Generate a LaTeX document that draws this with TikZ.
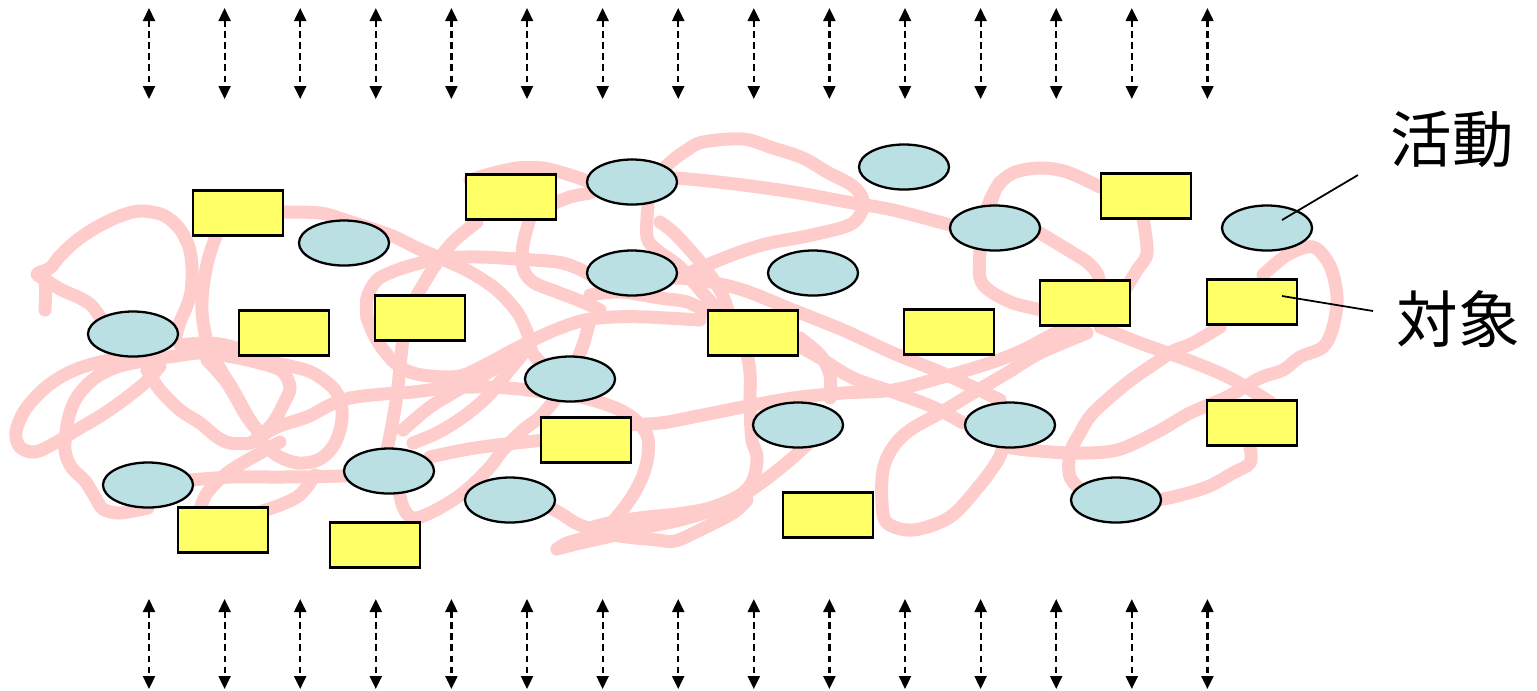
\documentclass[tikz,border=0pt]{standalone}
\usepackage{fontspec}
\newfontfamily\cjk{Noto Sans CJK JP}
\usetikzlibrary{shapes.geometric,arrows.meta}
\definecolor{pinkc}{RGB}{255,204,204}
\definecolor{yel}{RGB}{255,255,102}
\definecolor{lblue}{RGB}{186,224,227}
\tikzset{
  scrib/.style={draw=pinkc,line width=0.13cm,line cap=round,line join=round},
  objbox/.style={draw=black,fill=yel,line width=0.65pt,minimum width=0.9cm,minimum height=0.45cm,inner sep=0pt},
  actell/.style={ellipse,draw=black,fill=lblue,line width=0.65pt,minimum width=0.9cm,minimum height=0.45cm,inner sep=0pt},
  darr/.style={{Triangle[length=0.13cm,width=0.12cm]}-{Triangle[length=0.13cm,width=0.12cm]},dash pattern=on 0.065cm off 0.045cm,line width=0.022cm},
  lab/.style={font=\cjk\fontsize{17.5}{20}\selectfont,inner sep=0pt},
  leader/.style={draw=black,line width=0.5pt}
}
\newcommand{\scrstroke}[1]{\draw[scrib] plot[smooth,tension=0.55] coordinates {#1};}
\begin{document}
\begin{tikzpicture}[x=0.01cm,y=-0.01cm]
\useasboundingbox (0,0) rectangle (1537,690);
% scribble
\scrstroke{(45,310)(45,282)(37,274)(50,268)(60,256)(76,241)(97,227)(120,216)(140,211)(163,215)(179,228)(189,247)(192,268)(191,292)(186,308)(180,322)(176,336)}
\scrstroke{(40,276)(60,289)(80,298)(92,306)(102,320)}
\scrstroke{(216,236)(208,260)(203,288)(202,312)(205,333)(210,350)(222,372)(235,393)(250,420)(262,436)}
\scrstroke{(280,212)(320,213)(345,220)(390,235)(417,248)(440,258)(470,272)(497,290)(517,312)(527,332)(532,352)(542,364)}
\scrstroke{(130,358)(100,362)(70,372)(45,388)(25,410)(16,432)(20,447)(35,452)(55,443)(80,428)(105,413)(130,395)(148,380)(160,366)}
\scrstroke{(160,358)(120,366)(95,378)(77,397)(68,420)(65,450)(72,468)(85,481)(95,497)(103,509)(120,513)(148,508)}
\scrstroke{(147,370)(160,390)(180,410)(200,423)(217,437)(230,443)(250,443)(262,436)}
\scrstroke{(207,360)(227,383)(247,417)(260,433)}
\scrstroke{(110,360)(167,357)(200,353)(233,357)(267,365)(283,372)(290,388)(283,405)(273,423)(260,436)}
\scrstroke{(255,440)(277,427)(307,417)(330,405)(350,398)(383,394)(413,392)(447,388)(490,387)(530,390)}
\scrstroke{(180,345)(207,343)(233,347)(263,360)(290,366)(313,373)(335,390)(342,410)(340,430)(332,448)(318,460)(298,463)(278,456)(263,443)}
\scrstroke{(190,480)(233,477)(283,477)(340,476)(390,472)}
\scrstroke{(200,510)(207,493)(227,473)(260,453)(280,442)}
\scrstroke{(257,513)(280,505)(297,497)(307,487)(315,475)}
\scrstroke{(477,222)(455,240)(440,258)(423,285)(410,310)(403,340)(400,367)(397,395)(392,425)(387,450)}
\scrstroke{(470,180)(490,174)(517,168)(543,168)(570,175)(590,182)}
\scrstroke{(550,205)(570,197)(590,193)}
\scrstroke{(530,218)(523,245)(523,268)(533,282)(557,292)(583,302)(600,310)}
\scrstroke{(367,318)(367,298)(377,280)(397,270)(420,263)(440,258)(480,257)(517,259)(557,262)(577,268)(592,276)}
\scrstroke{(367,318)(373,333)(382,348)(395,363)(410,372)(430,376)(460,376)(487,364)(513,350)(537,338)(560,328)(585,320)(613,317)(647,317)(700,320)}
\scrstroke{(590,295)(620,292)(660,298)(687,302)(707,312)}
\scrstroke{(590,320)(583,345)(572,370)(555,393)}
\scrstroke{(403,430)(430,407)(463,387)(497,367)(510,355)}
\scrstroke{(413,443)(437,433)(463,417)(487,397)(507,373)(522,355)}
\scrstroke{(397,480)(403,507)(413,518)(430,513)(453,500)(470,487)(490,467)(503,450)(523,430)(540,417)(557,397)}
\scrstroke{(430,457)(463,450)(497,445)(545,440)}
\scrstroke{(527,390)(580,397)(613,407)(633,418)(647,435)(648,455)(643,475)(633,495)(620,513)(607,527)(587,537)(567,543)(557,549)}
\scrstroke{(557,549)(580,543)(607,537)(647,527)(680,520)(713,510)(740,497)(765,480)(790,460)(812,440)}
\scrstroke{(545,505)(560,513)(580,525)(613,535)(657,540)(675,541)(700,530)(733,513)(747,500)}
\scrstroke{(648,205)(647,237)(657,250)(680,267)(700,290)(713,305)(730,330)(745,350)(750,373)(750,407)(752,440)(757,457)(753,480)(740,495)(710,508)(677,514)(647,517)(613,522)(590,528)}
\scrstroke{(660,222)(673,232)(690,250)(705,268)(720,290)(728,310)}
\scrstroke{(660,172)(673,160)(687,150)(703,142)(743,139)(773,148)(803,158)(827,172)(853,186)(863,200)(860,215)(847,226)(807,236)(770,243)(740,252)(707,265)(678,278)}
\scrstroke{(677,178)(727,183)(793,192)(847,202)(893,210)(950,225)}
\scrstroke{(675,278)(700,280)(743,290)(793,310)(843,330)(893,353)(940,372)(975,388)(1000,400)}
\scrstroke{(800,338)(820,355)(830,375)(830,398)}
\scrstroke{(797,345)(820,358)(853,378)(893,392)(933,407)(963,423)}
\scrstroke{(620,425)(660,423)(693,417)(743,407)(793,398)(843,393)(893,390)(943,377)(990,363)(1023,350)(1057,332)(1083,320)}
\scrstroke{(1087,333)(1040,353)(1007,373)(973,393)(940,413)(910,430)(893,447)(883,470)(882,503)(887,523)(913,530)(950,517)(980,485)(998,460)(1003,447)}
\scrstroke{(1000,182)(990,200)(982,225)(980,250)(980,278)(990,291)(1013,303)(1042,310)}
\scrstroke{(990,207)(997,187)(1013,173)(1040,168)(1067,172)(1100,187)}
\scrstroke{(1040,233)(1073,253)(1087,262)(1097,273)(1100,285)}
\scrstroke{(1143,218)(1147,253)(1137,270)(1125,290)}
\scrstroke{(1220,327)(1193,343)(1173,351)(1160,360)(1127,383)(1093,413)(1080,433)(1070,453)(1070,477)(1083,492)}
\scrstroke{(1263,275)(1287,255)(1313,247)(1330,266)(1337,297)(1333,327)(1323,347)(1300,357)(1283,370)(1260,378)(1227,397)(1190,413)(1157,432)(1117,450)(1073,453)(1027,450)(1007,447)}
\scrstroke{(1100,327)(1140,343)(1190,361)(1230,378)(1270,402)}
\scrstroke{(1250,447)(1250,463)(1233,473)(1207,487)(1173,497)(1155,500)}
% objects (rectangles)
\node[objbox] (r1) at (238,213) {};
\node[objbox] (r2) at (511,197) {};
\node[objbox] (r3) at (284,333) {};
\node[objbox] (r4) at (420,318) {};
\node[objbox] (r5) at (753,333) {};
\node[objbox] (r6) at (949,332) {};
\node[objbox] (r7) at (1085,303) {};
\node[objbox] (r8) at (1146,196) {};
\node[objbox] (r9) at (1252,302) {};
\node[objbox] (r10) at (1252,423) {};
\node[objbox] (r11) at (586,440) {};
\node[objbox] (r12) at (828,515) {};
\node[objbox] (r13) at (223,530) {};
\node[objbox] (r14) at (375,545) {};
% activities (ellipses)
\node[actell] (e1) at (344,243) {};
\node[actell] (e2) at (133,334) {};
\node[actell] (e3) at (632,182) {};
\node[actell] (e4) at (632,273) {};
\node[actell] (e5) at (904,167) {};
\node[actell] (e6) at (995,228) {};
\node[actell] (e7) at (813,273) {};
\node[actell] (e8) at (1267,228) {};
\node[actell] (e9) at (570,379) {};
\node[actell] (e10) at (798,425) {};
\node[actell] (e11) at (1010,425) {};
\node[actell] (e12) at (389,471) {};
\node[actell] (e13) at (510,500) {};
\node[actell] (e14) at (148,485) {};
\node[actell] (e15) at (1116,500) {};
% double arrows
\foreach \i in {0,...,14}{
  \pgfmathsetmacro\xx{149+75.6*\i}
  \coordinate (ta\i) at (\xx,8);
  \coordinate (tb\i) at (\xx,99);
  \coordinate (ba\i) at (\xx,599);
  \coordinate (bb\i) at (\xx,689);
  \draw[darr] (ta\i) -- (tb\i);
  \draw[darr] (ba\i) -- (bb\i);
}
% labels
\node[lab] (l1) at (1452,139) {活動};
\node[lab] (l2) at (1458,319) {対象};
\coordinate (p1) at (1282,220);
\coordinate (q1) at (1358,175);
\coordinate (p2) at (1282,296);
\coordinate (q2) at (1373,311);
\draw[leader] (p1) -- (q1);
\draw[leader] (p2) -- (q2);
\end{tikzpicture}
\end{document}
